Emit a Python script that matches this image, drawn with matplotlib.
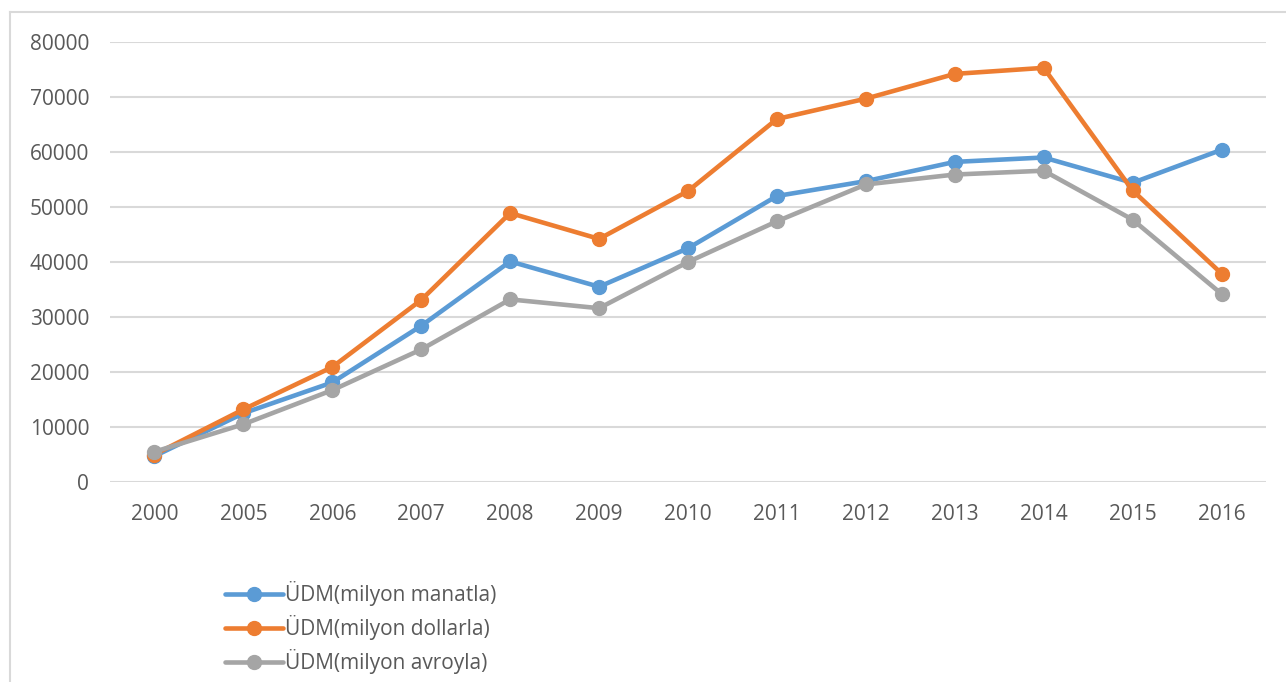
import numpy as np
import matplotlib.pyplot as plt
from matplotlib.lines import Line2D

plt.rcParams['font.family'] = ['Open Sans', 'DejaVu Sans']

years = ['2000', '2005', '2006', '2007', '2008', '2009', '2010',
         '2011', '2012', '2013', '2014', '2015', '2016']
manat = [4700, 12500, 18100, 28400, 40100, 35500, 42500,
         52000, 54700, 58200, 59000, 54400, 60400]
dollar = [5000, 13200, 20900, 33100, 48900, 44200, 52900,
          66000, 69700, 74200, 75300, 53000, 37900]
avro = [5500, 10500, 16700, 24100, 33200, 31600, 40000,
        47400, 54100, 55900, 56600, 47700, 34200]
labels = ['ÜDM(milyon manatla)', 'ÜDM(milyon dollarla)', 'ÜDM(milyon avroyla)']
colors = ['#5b9bd5', '#ed7d31', '#a5a5a5']

W, H = 1286, 682
fig = plt.figure(figsize=(W/100, H/100), dpi=100)
ax = fig.add_axes([110/W, 1-482/H, 1156/W, 440/H])

x = np.arange(len(years))
handles = []
for vals, lab, col in zip([manat, dollar, avro], labels, colors):
    h, = ax.plot(x, vals, color=col, lw=3.3, marker='o', ms=10,
                 label=lab, solid_joinstyle='round', solid_capstyle='round')
    handles.append(h)

ax.set_xlim(-0.5, len(years)-0.5)
ax.set_ylim(0, 80000)
ax.set_yticks(np.arange(0, 80001, 10000))
ax.set_xticks(x)
ax.set_xticklabels(years)
ax.grid(axis='y', color='#d9d9d9', lw=1.5)
ax.set_axisbelow(True)
for s in ax.spines.values():
    s.set_visible(False)
ax.tick_params(length=0, labelsize=15, colors='#595959', pad=15)
ax.tick_params(axis='x', pad=16)

leg = fig.legend(handles=handles, loc='upper left',
                 bbox_to_anchor=(217/W, 1-573/H), frameon=False,
                 fontsize=15, handlelength=2.75, handletextpad=0.1,
                 labelspacing=0.42, borderaxespad=0)
for t in leg.get_texts():
    t.set_color('#595959')

# chart frame
fig.add_artist(Line2D([10/W, 1], [1-12/H, 1-12/H], color='#d9d9d9', lw=1.5))
fig.add_artist(Line2D([10/W, 10/W], [0, 1-12/H], color='#d9d9d9', lw=1.5))

fig.savefig('out.png', dpi=100)
